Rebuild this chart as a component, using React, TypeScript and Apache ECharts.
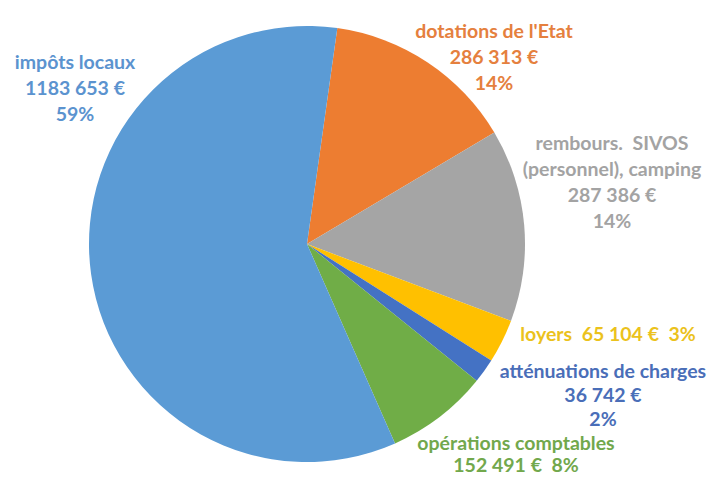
import React, { useEffect, useRef } from "react";
import * as echarts from "echarts";

const categories = [
  "dotations de l'Etat",
  "rembours.  SIVOS\n(personnel), camping",
  "loyers",
  "atténuations de charges",
  "opérations comptables",
  "impôts locaux",
];
const values = [286313, 287386, 65104, 36742, 152491, 1183653];
const colors = ["#ED7D31", "#A5A5A5", "#FFC000", "#4472C4", "#70AD47", "#5B9BD5"];
const labelColors = ["#E5803E", "#A3A3A3", "#EBC21C", "#4A6EB8", "#72A84C", "#5B93CF"];
// label block centres (layout only)
const labelPos = [
  [494, 56],
  [612, 181],
  [608, 333],
  [603, 394],
  [516, 453],
  [75, 87],
];
const separators = ["\n", "\n", "  ", "\n", "\n", "\n"];
const pctSeparators = ["\n", "\n", "  ", "\n", "  ", "\n"];
const lineHeights = [26, 26, 26, 24, 22, 26];

function fmt(v: number): string {
  const hi = Math.floor(v / 1000);
  const lo = String(v % 1000).padStart(3, "0");
  return hi + " " + lo + " €";
}

export default function App() {
  const ref = useRef<HTMLDivElement>(null);
  useEffect(() => {
    document.body.style.margin = "0";
    const chart = echarts.init(ref.current!, null, { renderer: "svg" });
    chart.setOption({
      animation: false,
      backgroundColor: "#ffffff",
      series: [
        {
          type: "pie",
          center: [307, 244],
          radius: 218,
          startAngle: 82,
          clockwise: true,
          data: categories.map((name, i) => ({
            name,
            value: values[i],
            itemStyle: { color: colors[i] },
            label: { color: labelColors[i], lineHeight: lineHeights[i] },
          })),
          label: {
            show: true,
            position: "inside",
            fontFamily: "Lato",
            fontWeight: "bold",
            fontSize: 19.5,
            lineHeight: 26,
            align: "center",
            overflow: "none",
            formatter: (p: any) => {
              const i = p.dataIndex;
              return (
                p.name +
                separators[i] +
                fmt(p.value) +
                pctSeparators[i] +
                Math.round(p.percent) +
                "%"
              );
            },
          },
          labelLine: { show: false },
          labelLayout: (params: any) => {
            const pos = labelPos[params.dataIndex];
            return {
              x: pos[0],
              y: pos[1],
              align: "center",
              verticalAlign: "middle",
            };
          },
        },
      ],
    });
    return () => chart.dispose();
  }, []);
  return <div ref={ref} style={{ width: 710, height: 477 }} />;
}
